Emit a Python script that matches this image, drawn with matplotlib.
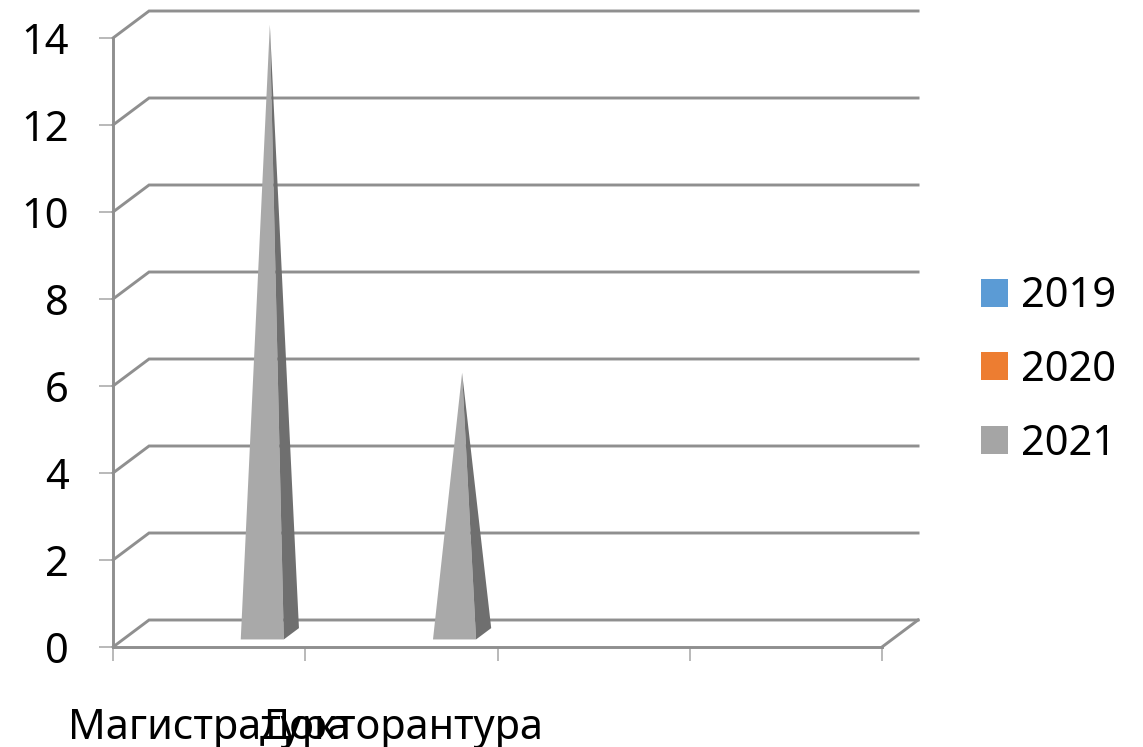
import matplotlib
matplotlib.use('Agg')
from matplotlib import pyplot as plt
from matplotlib.patches import Patch

plt.rcParams['font.family'] = ['Noto Sans', 'DejaVu Sans']

categories = ['Магистратура', 'Докторантура', '', '']
years = ['2019', '2020', '2021']
values_2019 = [0, 0, 0, 0]
values_2020 = [0, 0, 0, 0]
values_2021 = [14, 6, 0, 0]
series = [values_2019, values_2020, values_2021]
colors = ['#5b9bd5', '#ed7d31', '#a5a5a5']
yticks = [0, 2, 4, 6, 8, 10, 12, 14]

# fake 3d, depth of the box in data units
depth_x = 36 / 192
depth_y = 27 / (609 / 14)
front = 0.28
back = 0.70
bar_w = 0.224

W, H = 1143, 747
line_col = '#8f8f8f'
tick_col = '#a6a6a6'

fig = plt.figure(figsize=(W / 100, H / 100), dpi=100)
ax = fig.add_axes([113 / W, 1 - 647 / H, (882 - 113) / W, (647 - 38) / H])
ax.set_xlim(0, 4)
ax.set_ylim(0, 14)

# back wall, side wall
for v in yticks:
    ax.plot([0, depth_x, 4 + depth_x], [v, v + depth_y, v + depth_y],
            color=line_col, lw=2.1, clip_on=False, zorder=1, solid_joinstyle='miter')
ax.plot([4, 4 + depth_x], [0, depth_y], color=line_col, lw=2.1, clip_on=False, zorder=1)

# pyramids
for s, vals in enumerate(series):
    for c, v in enumerate(vals):
        if v == 0:
            continue
        left = c + 0.5 + bar_w * (s - 1) - bar_w / 2
        right = left + bar_w
        x0 = front * depth_x
        y0 = front * depth_y
        x1 = back * depth_x
        y1 = back * depth_y
        apex_x = (left + right) / 2 + (x0 + x1) / 2
        apex_y = v + (y0 + y1) / 2
        ax.fill([left + x0, right + x0, apex_x], [y0, y0, apex_y],
                color='#a9a9a9', lw=0, clip_on=False, zorder=3)
        ax.fill([right + x0, right + x1, apex_x], [y0, y1, apex_y],
                color='#6f6f6f', lw=0, clip_on=False, zorder=3)

for side in ['top', 'right']:
    ax.spines[side].set_visible(False)
for side in ['left', 'bottom']:
    ax.spines[side].set_color(line_col)
    ax.spines[side].set_linewidth(2.1)
    ax.spines[side].set_zorder(4)

ax.set_yticks(yticks)
ax.set_xticks([0, 1, 2, 3, 4])
ax.set_xticklabels([])
ax.tick_params(axis='x', which='major', length=10, width=1.1, color=tick_col)
ax.tick_params(axis='y', which='major', length=10, width=1.1, color=tick_col,
               pad=22, labelsize=30)

ax.set_xticks([0.5, 1.5, 2.5, 3.5], minor=True)
ax.set_xticklabels(categories, minor=True)
ax.tick_params(axis='x', which='minor', length=0, pad=43, labelsize=30)

handles = [Patch(facecolor=col, edgecolor='none') for col in colors]
fig.legend(handles, years, loc='center left', bbox_to_anchor=(981 / W, 1 - 370 / H),
           frameon=False, fontsize=30, handlelength=0.65, handleheight=0.65,
           handletextpad=0.3, labelspacing=0.76, borderpad=0, borderaxespad=0)

fig.savefig('out.png', dpi=100)
